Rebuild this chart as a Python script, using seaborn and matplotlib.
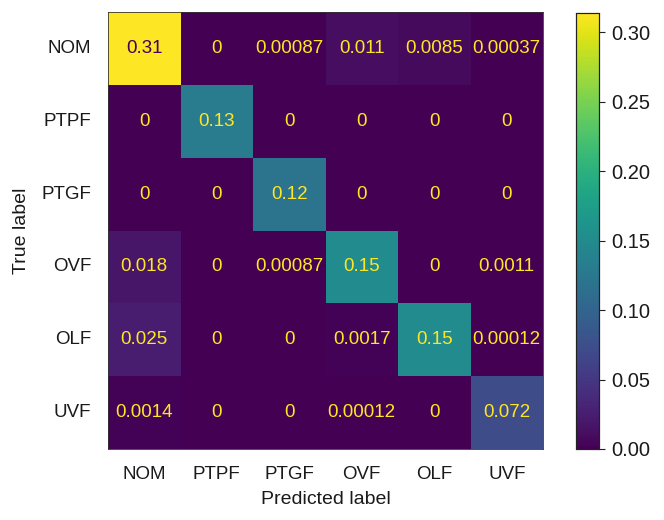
import numpy as np
import pandas as pd
import matplotlib
matplotlib.use("Agg")
import matplotlib.pyplot as plt
import seaborn as sns

labels = ["NOM", "PTPF", "PTGF", "OVF", "OLF", "UVF"]
row_nom = [0.314, 0, 0.00087, 0.011, 0.0085, 0.00037]
row_ptpf = [0, 0.13, 0, 0, 0, 0]
row_ptgf = [0, 0, 0.12, 0, 0, 0]
row_ovf = [0.018, 0, 0.00087, 0.15, 0, 0.0011]
row_olf = [0.025, 0, 0, 0.0017, 0.15, 0.00012]
row_uvf = [0.0014, 0, 0, 0.00012, 0, 0.072]

cm = pd.DataFrame([row_nom, row_ptpf, row_ptgf, row_ovf, row_olf, row_uvf],
                  index=labels, columns=labels)

sns.set_theme(style="white")
plt.rcParams["font.family"] = ["Liberation Sans", "DejaVu Sans"]
txt = "#1a1a1a"
plt.rcParams["text.color"] = txt
plt.rcParams["axes.labelcolor"] = txt
plt.rcParams["xtick.color"] = txt
plt.rcParams["ytick.color"] = txt

fig = plt.figure(figsize=(6.64, 5.2), dpi=100)
ax = fig.add_axes([108 / 664, 1 - 449 / 520, 435 / 664, 437 / 520])
cax = fig.add_axes([576 / 664, 1 - 449 / 520, 23 / 664, 436 / 520])

cmap = plt.get_cmap("viridis")
vmin, vmax = 0.0, float(np.max(cm.values))
sns.heatmap(cm, ax=ax, cbar_ax=cax, cmap=cmap, vmin=vmin, vmax=vmax,
            annot=True, fmt=".2g", annot_kws={"fontsize": 13.5}, square=False)

thresh = (vmax + vmin) / 2
for t, v in zip(ax.texts, cm.values.ravel()):
    t.set_color(cmap(0.0) if v > thresh else cmap(1.0))

ax.set_xlabel("Predicted label", fontsize=14, labelpad=6)
ax.set_ylabel("True label", fontsize=14, labelpad=8)
ax.tick_params(axis="both", labelsize=13.5, length=0, pad=12)
ax.set_yticklabels(labels, rotation=0)
ax.set_xticklabels(labels, rotation=0)
for s in ax.spines.values():
    s.set_visible(True)
    s.set_linewidth(0.6)
    s.set_color("#333333")

cax.tick_params(labelsize=14.5, length=4, width=0.8, color="#222222", pad=5)
cax.set_yticks([0.0, 0.05, 0.10, 0.15, 0.20, 0.25, 0.30])
cax.set_yticklabels(["0.00", "0.05", "0.10", "0.15", "0.20", "0.25", "0.30"])
for s in cax.spines.values():
    s.set_visible(True)
    s.set_linewidth(0.8)
    s.set_color("#222222")

fig.savefig("out.png", dpi=100, facecolor="white")
